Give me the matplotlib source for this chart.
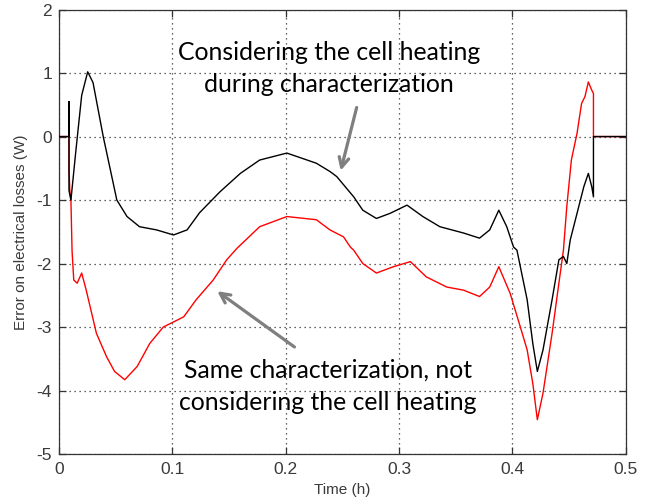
"""
plot.py - error on electrical losses vs time, with and without cell heating.
"""

import matplotlib
matplotlib.use("Agg")
import matplotlib.pyplot as plt

# Considering the cell heating during characterization (black)
t_heat = [0.0, 0.0088, 0.0088, 0.0088, 0.0105, 0.015, 0.020, 0.0253, 0.030,
          0.039, 0.051, 0.060, 0.071, 0.086, 0.101, 0.113, 0.124, 0.142,
          0.160, 0.177, 0.201, 0.227, 0.239, 0.245, 0.260, 0.268, 0.280,
          0.292, 0.307, 0.321, 0.336, 0.357, 0.371, 0.380, 0.388, 0.395,
          0.401, 0.404, 0.413, 0.418, 0.422, 0.427, 0.435, 0.441, 0.445,
          0.448, 0.451, 0.457, 0.463, 0.467, 0.470, 0.4715, 0.4715, 0.50]
e_heat = [0.0, 0.0, 0.55, -0.85, -1.0, -0.2, 0.65, 1.02, 0.85,
          0.0, -1.0, -1.26, -1.42, -1.47, -1.55, -1.47, -1.20, -0.87,
          -0.58, -0.37, -0.26, -0.42, -0.55, -0.63, -0.95, -1.16, -1.29,
          -1.21, -1.08, -1.26, -1.42, -1.52, -1.60, -1.47, -1.16, -1.42,
          -1.74, -1.79, -2.57, -3.26, -3.70, -3.36, -2.57, -1.94, -1.89,
          -2.0, -1.63, -1.21, -0.79, -0.58, -0.79, -0.95, 0.0, 0.0]

# Same characterization, not considering the cell heating (red)
t_noheat = [0.0, 0.0088, 0.0088, 0.0095, 0.0105, 0.0115, 0.013, 0.016, 0.020,
            0.024, 0.033, 0.042, 0.049, 0.058, 0.069, 0.080, 0.092, 0.101,
            0.110, 0.121, 0.136, 0.148, 0.157, 0.177, 0.201, 0.227, 0.239,
            0.251, 0.257, 0.260, 0.268, 0.280, 0.295, 0.310, 0.324, 0.342,
            0.357, 0.371, 0.380, 0.388, 0.398, 0.407, 0.413, 0.418, 0.422,
            0.427, 0.435, 0.441, 0.445, 0.448, 0.452, 0.457, 0.461, 0.464,
            0.467, 0.470, 0.4715, 0.4715, 0.50]
e_noheat = [0.0, 0.0, -0.5, -0.85, -1.0, -1.8, -2.26, -2.31, -2.15,
            -2.42, -3.10, -3.47, -3.70, -3.83, -3.62, -3.26, -3.00, -2.92,
            -2.84, -2.57, -2.26, -1.94, -1.76, -1.42, -1.26, -1.31, -1.47,
            -1.58, -1.74, -1.79, -2.00, -2.15, -2.05, -1.97, -2.21, -2.37,
            -2.42, -2.52, -2.37, -2.05, -2.47, -3.00, -3.36, -3.89, -4.46,
            -4.04, -3.10, -2.31, -1.79, -1.10, -0.37, 0.05, 0.52, 0.63,
            0.86, 0.73, 0.68, 0.0, 0.0]

x_ticks = [0, 0.1, 0.2, 0.3, 0.4, 0.5]
x_tick_labels = ["0", "0.1", "0.2", "0.3", "0.4", "0.5"]
y_ticks = [-5, -4, -3, -2, -1, 0, 1, 2]
y_tick_labels = ["-5", "-4", "-3", "-2", "-1", "0", "1", "2"]

label_heat = "Considering the cell heating\nduring characterization"
label_noheat = "Same characterization, not\nconsidering the cell heating"

plt.rcParams["font.family"] = ["Liberation Sans", "DejaVu Sans"]

fig = plt.figure(figsize=(6.58, 5.04), dpi=100)
ax = fig.add_axes([0.0897, 0.0992, 0.8613, 0.8818])

ax.plot(t_noheat, e_noheat, color="#ff0000", linewidth=1.0, zorder=3)
ax.plot(t_heat, e_heat, color="#000000", linewidth=1.0, zorder=4)

ax.set_xlim(0, 0.5)
ax.set_ylim(-5, 2)
ax.set_xticks(x_ticks)
ax.set_xticklabels(x_tick_labels)
ax.set_yticks(y_ticks)
ax.set_yticklabels(y_tick_labels)

ax.grid(True, color="#333333", linestyle=(0, (1, 3)), linewidth=0.9)
ax.tick_params(direction="in", length=5, width=0.9, top=True, right=True,
               labelsize=12.5, labelcolor="#3a3a3a", color="#333333")
ax.tick_params(axis="x", pad=6)
ax.tick_params(axis="y", pad=5)
for spine in ax.spines.values():
    spine.set_color("#333333")
    spine.set_linewidth(0.9)

ax.set_xlabel("Time (h)", fontsize=11, color="#3a3a3a", labelpad=4)
ax.set_ylabel("Error on electrical losses (W)", fontsize=11, color="#3a3a3a",
              labelpad=6)

arrow_kw = dict(arrowstyle="->,head_length=0.7,head_width=0.35",
                color="#7f7f7f", lw=2.3)

ax.annotate("", xy=(0.2479, -0.58), xytext=(0.2632, 0.50),
            arrowprops=arrow_kw, zorder=5)
ax.annotate("", xy=(0.1376, -2.41), xytext=(0.2097, -3.34),
            arrowprops=arrow_kw, zorder=5)

ax.text(0.2382, 1.07, label_heat, ha="center", va="center",
        fontsize=17.8, family=["Lato", "DejaVu Sans"], linespacing=1.5,
        zorder=6)
ax.text(0.2374, -3.93, label_noheat, ha="center", va="center",
        fontsize=17.8, family=["Lato", "DejaVu Sans"], linespacing=1.5,
        zorder=6)

fig.savefig("out.png", dpi=100)
plt.close(fig)
